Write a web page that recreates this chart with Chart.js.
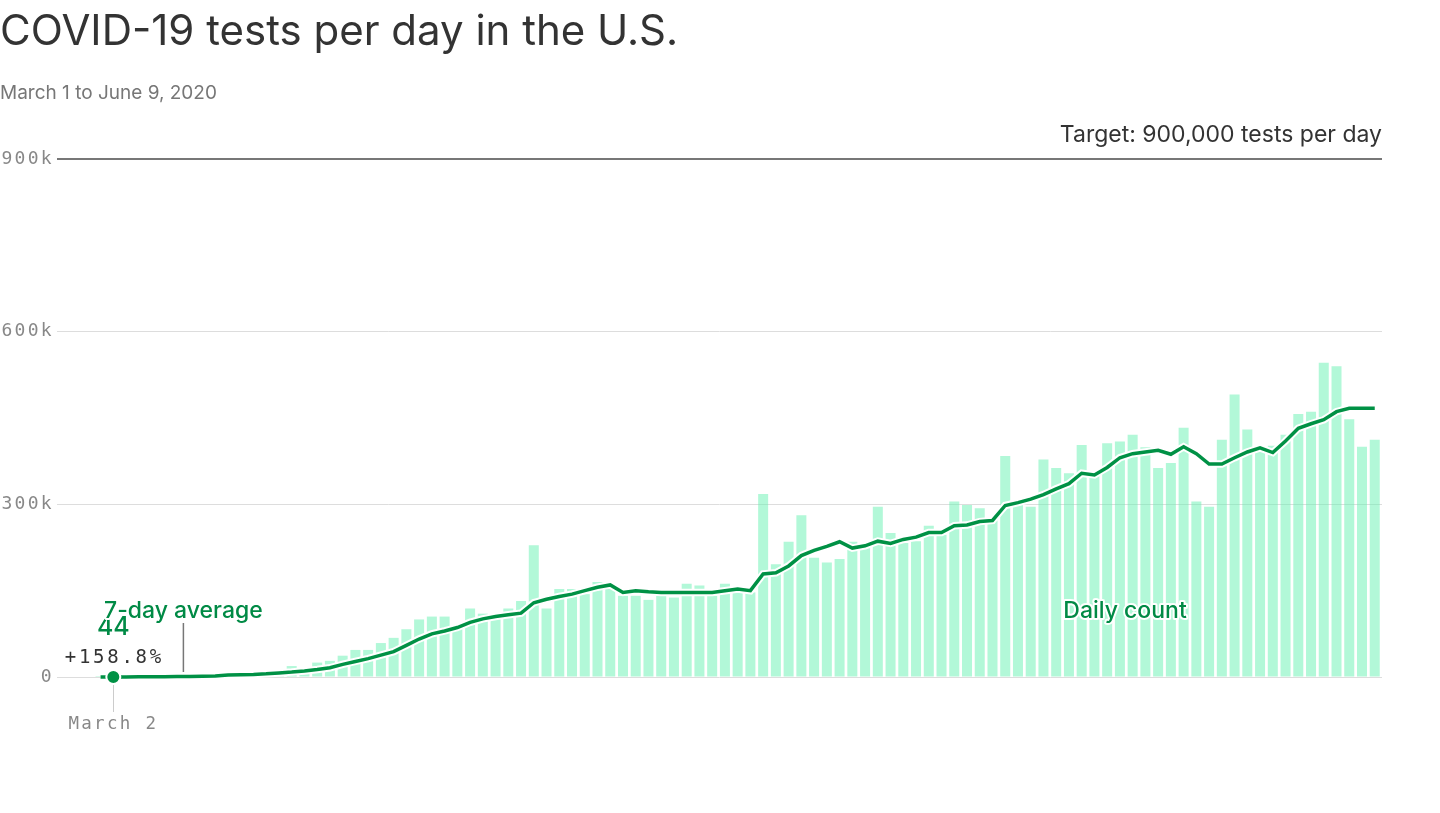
<!DOCTYPE html>
<html>
<head>
<meta charset="utf-8">
<script src="https://cdn.jsdelivr.net/npm/chart.js@4.4.1/dist/chart.umd.min.js"></script>
<style>
html,body{margin:0;padding:0;background:#fff;}
#wrap{width:1440px;height:813px;position:relative;}
</style>
</head>
<body>
<div id="wrap"><canvas id="c" width="1440" height="813"></canvas></div>
<script>
// ---------- DATA ----------
const titleText = 'COVID-19 tests per day in the U.S.';
const subtitleText = 'March 1 to June 9, 2020';
const targetText = 'Target: 900,000 tests per day';

const monthNames = ['January','February','March','April','May','June'];
const dates = [];
for (let d = new Date(2020, 2, 1); d <= new Date(2020, 5, 9); d.setDate(d.getDate() + 1)) {
  dates.push(monthNames[d.getMonth()] + ' ' + d.getDate());
}

// Daily count of tests (Mar 1 .. Jun 9)
const dailyCount = [
  17, 44, 300, 400, 600, 900, 1200, 1500, 2000, 2800,
  3800, 4500, 5500, 6500, 7000, 19000, 10000, 25000, 28000, 37000,
  47000, 47000, 59000, 68000, 83000, 100000, 105000, 105000, 85000, 119000,
  110000, 105000, 119000, 132000, 229000, 119000, 153000, 153000, 144000, 165000,
  158000, 141000, 141000, 134000, 141000, 138000, 162000, 159000, 141000, 162000,
  150000, 147000, 318000, 196000, 235000, 281000, 207000, 199000, 205000, 235000,
  226000, 296000, 250000, 233000, 236000, 263000, 247000, 305000, 299000, 293000,
  272000, 384000, 300000, 296000, 378000, 363000, 354000, 403000, 352000, 406000,
  409000, 421000, 399000, 363000, 372000, 433000, 305000, 296000, 412000, 491000,
  430000, 401000, 402000, 421000, 457000, 461000, 546000, 540000, 448000, 400000,
  412000
];

// 7-day average
const sevenDayAvg = [
  17, 44, 150, 250, 400, 550, 750, 1000, 1300, 1900,
  3500, 4000, 4500, 5500, 7000, 8500, 10500, 13000, 16000, 22000,
  27000, 32000, 38000, 44000, 55000, 66000, 75000, 80000, 86000, 95000,
  101000, 105000, 108000, 111000, 129000, 135000, 140000, 144000, 150000, 156000,
  160000, 147000, 150000, 148000, 147000, 147000, 147000, 147000, 147000, 150000,
  153000, 150000, 179000, 181000, 193000, 211000, 220000, 227000, 235000, 224000,
  228000, 236000, 232000, 239000, 243000, 251000, 251000, 263000, 264000, 270000,
  272000, 298000, 303000, 309000, 317000, 327000, 336000, 354000, 351000, 364000,
  381000, 388000, 391000, 394000, 387000, 400000, 388000, 370000, 370000, 381000,
  391000, 398000, 390000, 410000, 432000, 440000, 447000, 461000, 467000, 467000,
  467000
];

const yTicks = [0, 300000, 600000, 900000];
const yTickLabels = ['0', '300k', '600k', '900k'];

const highlightIndex = 1;          // March 2
const highlightValueText = '44';
const highlightChangeText = '+158.8%';
const avgLabel = '7-day average';
const dailyLabel = 'Daily count';

// ---------- STYLE ----------
const GREEN = '#009145';
const GREEN_TEXT = '#008a45';
const BAR = 'rgba(101,241,177,0.5)';
const SANS = 'Inter, "Noto Sans", sans-serif';
const MONO = '"DejaVu Sans Mono", monospace';

const barData = dailyCount.map((v, i) => ({x: i, y: v}));
const lineData = sevenDayAvg.map((v, i) => ({x: i, y: v}));

const textPlugin = {
  id: 'texts',
  beforeDraw(chart) { chart.ctx.letterSpacing = '2.3px'; },
  beforeDatasetsDraw(chart) { chart.ctx.letterSpacing = '0px'; },
  afterDraw(chart) {
    const ctx = chart.ctx;
    const xs = chart.scales.x, ys = chart.scales.y;
    const area = chart.chartArea;
    ctx.save();
    ctx.letterSpacing = '0px';
    ctx.textBaseline = 'alphabetic';

    // title
    ctx.fillStyle = '#333';
    ctx.textAlign = 'left';
    ctx.font = '400 42px ' + SANS;
    ctx.fillText(titleText, 0, 45);
    // subtitle
    ctx.fillStyle = '#777';
    ctx.font = '400 19px ' + SANS;
    ctx.fillText(subtitleText, 0, 99);
    // target
    ctx.fillStyle = '#333';
    ctx.textAlign = 'right';
    ctx.font = '400 23px ' + SANS;
    ctx.fillText(targetText, area.right, ys.getPixelForValue(900000) - 17);

    const base = ys.getPixelForValue(0);
    const px = xs.getPixelForValue(highlightIndex);

    // highlight value
    ctx.textAlign = 'center';
    ctx.fillStyle = GREEN_TEXT;
    ctx.font = '500 25px ' + SANS;
    ctx.fillText(highlightValueText, px, base - 42);
    // change
    ctx.fillStyle = '#333';
    ctx.font = '400 19px ' + MONO;
    ctx.letterSpacing = '2.7px';
    ctx.fillText(highlightChangeText, px + 1, base - 14);
    ctx.letterSpacing = '0px';

    // 7-day average label with leader
    const lx = xs.getPixelForValue(6.5);
    ctx.strokeStyle = '#777';
    ctx.lineWidth = 1.5;
    ctx.beginPath();
    ctx.moveTo(lx, base - 54);
    ctx.lineTo(lx, base - 5);
    ctx.stroke();

    ctx.font = '500 23px ' + SANS;
    ctx.lineJoin = 'round';
    ctx.strokeStyle = '#fff';
    ctx.lineWidth = 4;
    ctx.strokeText(avgLabel, lx, base - 59);
    ctx.fillStyle = GREEN_TEXT;
    ctx.fillText(avgLabel, lx, base - 59);

    // daily count label
    const dx = xs.getPixelForValue(80.4);
    ctx.strokeText(dailyLabel, dx, base - 59);
    ctx.fillText(dailyLabel, dx, base - 59);
    ctx.restore();
  }
};

new Chart(document.getElementById('c'), {
  type: 'bar',
  data: {
    datasets: [
      {
        type: 'line', data: lineData, borderColor: GREEN, borderWidth: 3.5,
        pointRadius: c => c.dataIndex === highlightIndex ? 7 : 0,
        pointBackgroundColor: GREEN, pointBorderColor: '#fff', pointBorderWidth: 2,
        tension: 0, order: 1, clip: false
      },
      {
        type: 'line', data: lineData, borderColor: '#fff', borderWidth: 7.5,
        pointRadius: 0, tension: 0, order: 2, clip: false
      },
      {
        type: 'bar', data: barData, backgroundColor: BAR, borderWidth: 0,
        barPercentage: 0.785, categoryPercentage: 1, order: 3
      }
    ]
  },
  options: {
    responsive: false,
    animation: false,
    events: [],
    devicePixelRatio: 1,
    layout: { padding: { top: 159, right: 58, left: 0, bottom: 0 } },
    plugins: { legend: { display: false }, tooltip: { enabled: false }, title: { display: false } },
    scales: {
      x: {
        type: 'linear', min: -3.42, max: 100.57, offset: false,
        border: { display: false },
        grid: { drawOnChartArea: false, drawTicks: true, tickLength: 35, color: '#cccccc', lineWidth: 1, offset: false },
        afterBuildTicks: axis => { axis.ticks = [{ value: highlightIndex }]; },
        afterFit: s => { s.height = 136; },
        ticks: {
          callback: v => dates[v],
          font: { family: MONO, size: 17.5 }, color: '#888', padding: 2, maxRotation: 0, autoSkip: false
        }
      },
      y: {
        min: 0, max: 900000,
        border: { display: false },
        afterBuildTicks: axis => { axis.ticks = yTicks.map(v => ({ value: v })); },
        afterFit: s => { s.width = 57; },
        grid: {
          drawTicks: false,
          color: c => c.tick && c.tick.value === 900000 ? '#777' : '#dddddd',
          lineWidth: c => c.tick && c.tick.value === 900000 ? 2 : 1
        },
        ticks: {
          callback: v => yTickLabels[yTicks.indexOf(v)],
          font: { family: MONO, size: 18 }, color: '#888', padding: 3
        }
      }
    }
  },
  plugins: [textPlugin]
});
</script>
</body>
</html>
